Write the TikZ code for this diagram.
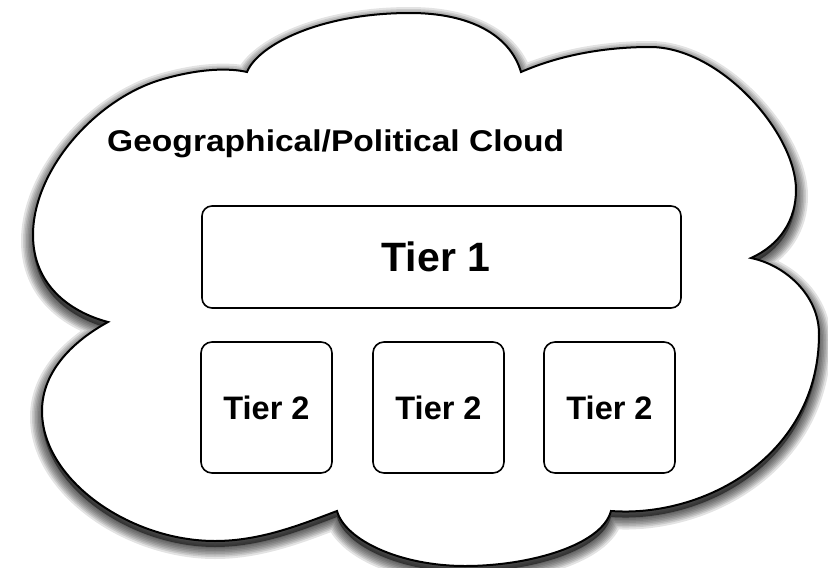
\documentclass[tikz,border=0pt]{standalone}
\usepackage{fontspec}
\usepackage{graphicx}
\setmainfont{Liberation Sans}
\begin{document}
\begin{tikzpicture}[x=1pt,y=-1pt,
  cloudpath/.style={insert path={(247,72) .. controls (258,45) and (320,13) .. (410,13)
    .. controls (470,13) and (510,35) .. (521,72)
    .. controls (560,55) and (605,47) .. (650,47)
    .. controls (720,47) and (796,133) .. (796,190)
    .. controls (796,220) and (780,245) .. (751,258)
    .. controls (785,265) and (819,295) .. (819,334)
    .. controls (819,455) and (705,518) .. (611,511)
    .. controls (602,545) and (530,566) .. (465,566)
    .. controls (400,566) and (345,540) .. (337,511)
    .. controls (300,525) and (260,541) .. (215,541)
    .. controls (130,541) and (42,480) .. (42,411)
    .. controls (42,370) and (75,340) .. (108,322)
    .. controls (70,312) and (33,285) .. (33,235)
    .. controls (33,170) and (95,100) .. (160,80)
    .. controls (200,68) and (230,68) .. (247,72) -- cycle}},
  tierbox/.style={draw, line width=1.6pt, rounded corners=11pt, fill=white, inner sep=0pt,
    font=\bfseries\fontsize{32.5}{38}\selectfont},
  tieronebox/.style={tierbox, rounded corners=10pt, font=\bfseries\fontsize{41}{48}\selectfont}
]
\useasboundingbox (0,0) rectangle (828,568);
% shadow
\begin{scope}[yshift=-6pt]
  \fill[black, fill opacity=0.5, cloudpath];
  \foreach \w in {2,5,8,11,14,17,20,24}{
    \draw[black, draw opacity=0.11, line width=\w pt, cloudpath];
  }
\end{scope}
% cloud
\filldraw[fill=white, draw=black, line width=2pt, cloudpath];
\node[anchor=base west, inner sep=0pt, font=\bfseries\fontsize{30}{36}\selectfont] (title) at (107,151.5)
  {\scalebox{1.119}[1]{Geographical/Political Cloud}};
\node[tieronebox, minimum width=479pt, minimum height=102pt] (t1) at (441.5,257) {Tier 1\hspace*{11pt}};
\node[tierbox, minimum width=131pt, minimum height=131pt] (t2a) at (266.5,407.5) {Tier 2};
\node[tierbox, minimum width=131pt, minimum height=131pt] (t2b) at (438.5,407.5) {Tier 2};
\node[tierbox, minimum width=131pt, minimum height=131pt] (t2c) at (609.5,407.5) {Tier 2};
\end{tikzpicture}
\end{document}
